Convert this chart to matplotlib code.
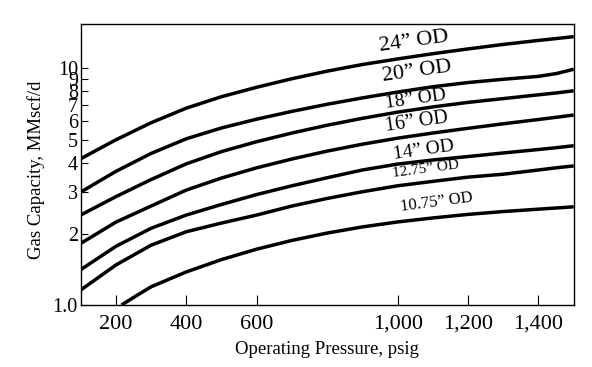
import matplotlib
matplotlib.use("Agg")
import matplotlib.pyplot as plt
from matplotlib.ticker import FixedLocator, NullLocator

plt.rcParams['font.family'] = ['Liberation Serif', 'DejaVu Serif']

# ---- data ----
pressure = [100, 200, 300, 400, 500, 600, 700, 800, 900, 1000, 1100, 1200, 1300, 1400, 1450, 1500]
cap_24 = [4.15, 4.99, 5.89, 6.79, 7.59, 8.32, 9.04, 9.73, 10.38, 10.96, 11.53, 12.08, 12.62, 13.12, 13.36, 13.61]
cap_20 = [3.0, 3.67, 4.37, 5.04, 5.60, 6.10, 6.58, 7.05, 7.50, 7.94, 8.36, 8.71, 8.99, 9.25, 9.50, 9.91]
cap_18 = [2.40, 2.87, 3.39, 3.95, 4.45, 4.90, 5.33, 5.75, 6.15, 6.53, 6.87, 7.18, 7.45, 7.73, 7.87, 8.04]
cap_16 = [1.82, 2.24, 2.62, 3.06, 3.44, 3.80, 4.14, 4.47, 4.78, 5.07, 5.33, 5.58, 5.83, 6.08, 6.21, 6.35]
cap_14 = [1.41, 1.77, 2.11, 2.40, 2.66, 2.93, 3.19, 3.45, 3.72, 3.94, 4.10, 4.24, 4.39, 4.54, 4.62, 4.71]
cap_1275 = [1.157, 1.476, 1.79, 2.04, 2.22, 2.40, 2.62, 2.82, 3.01, 3.19, 3.33, 3.47, 3.57, 3.72, 3.80, 3.87]
pressure_1075 = [216, 250, 300, 400, 500, 600, 700, 800, 900, 1000, 1100, 1200, 1300, 1400, 1450, 1500]
cap_1075 = [1.0, 1.076, 1.194, 1.38, 1.556, 1.722, 1.875, 2.014, 2.138, 2.244, 2.333, 2.415, 2.483, 2.541, 2.570, 2.600]

series_labels = ['24\u201d OD', '20\u201d OD', '18\u201d OD', '16\u201d OD', '14\u201d OD', '12.75\u201d OD', '10.75\u201d OD']

x_ticks = [200, 400, 600, 1000, 1200, 1400]
x_tick_labels = ['200', '400', '600', '1,000', '1,200', '1,400']
y_ticks = [1, 2, 3, 4, 5, 6, 7, 8, 9, 10]
y_tick_labels = ['1.0', '2', '3', '4', '5', '6', '7', '8', '9', '10']

# ---- figure ----
fig = plt.figure(figsize=(5.92, 3.67), dpi=100)
ax = fig.add_axes([0.1363, 0.1689, 0.8328, 0.7649])

series = [(pressure, cap_24), (pressure, cap_20), (pressure, cap_18), (pressure, cap_16),
          (pressure, cap_14), (pressure, cap_1275), (pressure_1075, cap_1075)]
for xs, ys in series:
    ax.plot(xs, ys, color='black', lw=2.5, solid_capstyle='butt', solid_joinstyle='round')

ax.set_yscale('log')
ax.set_xlim(100, 1500)
ax.set_ylim(1.0, 15.35)

ax.xaxis.set_major_locator(FixedLocator(x_ticks))
ax.set_xticklabels(x_tick_labels)
ax.yaxis.set_major_locator(FixedLocator(y_ticks))
ax.yaxis.set_minor_locator(NullLocator())
ax.set_yticklabels(y_tick_labels)

ax.tick_params(axis='x', direction='in', length=7.5, width=0.8, labelsize=16, pad=7)
ax.tick_params(axis='y', direction='in', length=5, width=0.8, labelsize=14.5, pad=2)
for s in ax.spines.values():
    s.set_linewidth(1.0)

ax.set_xlabel('Operating Pressure, psig', fontsize=13.5, labelpad=5)
ax.set_ylabel('Gas Capacity, MMscf/d', fontsize=13.5)
ax.yaxis.set_label_coords(-0.072, 0.48)

# curve labels
label_pos = [(1047, 12.9), (1055, 9.65), (1052, 7.42), (1055, 5.93), (1075, 4.52), (1081, 3.76), (1112, 2.72)]
label_size = [16, 16, 14, 14.5, 14, 11, 12]
label_rot = [8, 8, 8, 8, 8, 7.5, 7.5]
for txt, (lx, ly), fs, rot in zip(series_labels, label_pos, label_size, label_rot):
    ax.text(lx, ly, txt, fontsize=fs, rotation=rot, ha='center', va='center',
            rotation_mode='anchor')

fig.savefig('out.png', dpi=100)
